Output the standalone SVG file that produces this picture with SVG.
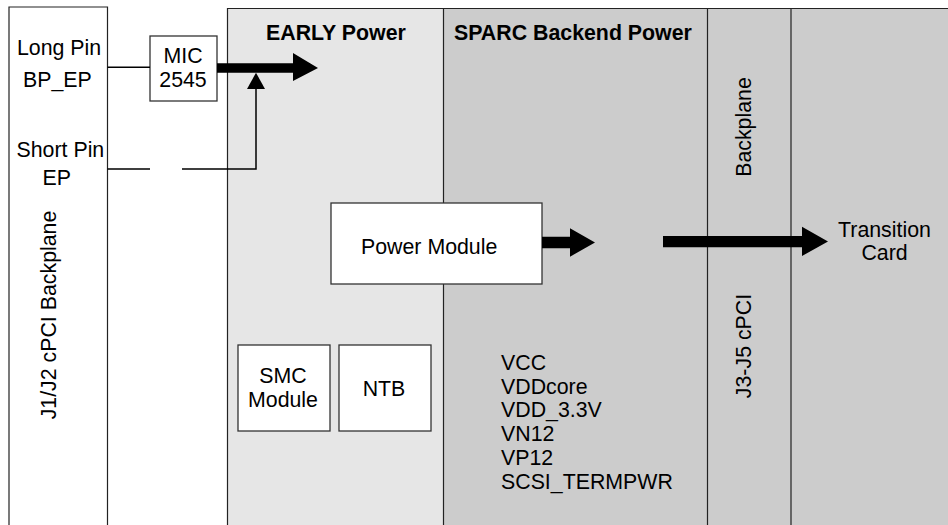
<svg xmlns="http://www.w3.org/2000/svg" width="948" height="525" viewBox="0 0 948 525">
<style>
.t{font-family:"Liberation Sans",Arial,sans-serif;font-size:21.33px;fill:#000}
.b{font-weight:bold}
.box{fill:#fff;stroke:#333;stroke-width:1.3}
.ln{stroke:#000;stroke-width:1.5;fill:none}
.sep{stroke:#222;stroke-width:1.2;fill:none}
.ar{fill:#000}
</style>
<rect width="948" height="525" fill="#fff"/>
<g id="regions">
<rect x="227.5" y="8.5" width="216" height="520" fill="#e6e6e6"/>
<rect x="443.5" y="8.5" width="510" height="520" fill="#cccccc"/>
<path class="sep" d="M227.5 525 V8.5 H948 M443.5 8.5 V525 M707.5 8.5 V525 M791 8.5 V525"/>
<text class="t b" x="266" y="40">EARLY Power</text>
<text class="t b" x="454" y="40">SPARC Backend Power</text>
</g>
<g id="backplane-left">
<path class="sep" d="M9 525 V7 H107.5 V525"/>
<text class="t" x="17" y="55">Long Pin</text>
<text class="t" x="23" y="87">BP_EP</text>
<text class="t" x="16.5" y="157">Short Pin</text>
<text class="t" x="42.5" y="185">EP</text>
<text class="t" transform="translate(55.5,315) rotate(-90)" text-anchor="middle">J1/J2 cPCI Backplane</text>
</g>
<g id="mic">
<rect class="box" x="150" y="36" width="67" height="65"/>
<text class="t" x="183" y="63" text-anchor="middle">MIC</text>
<text class="t" x="183" y="87" text-anchor="middle">2545</text>
</g>
<g id="power-module">
<rect class="box" x="331" y="203" width="211" height="81"/>
<text class="t" x="361" y="254">Power Module</text>
</g>
<g id="smc">
<rect class="box" x="238" y="345" width="92" height="86"/>
<text class="t" x="283" y="382.5" text-anchor="middle">SMC</text>
<text class="t" x="283" y="407" text-anchor="middle">Module</text>
</g>
<g id="ntb">
<rect class="box" x="339" y="345" width="92" height="86"/>
<text class="t" x="384" y="396" text-anchor="middle">NTB</text>
</g>
<g id="rails">
<text class="t" x="501" y="370">VCC</text>
<text class="t" x="501" y="393.5">VDDcore</text>
<text class="t" x="501" y="417.3">VDD_3.3V</text>
<text class="t" x="501" y="441">VN12</text>
<text class="t" x="501" y="465">VP12</text>
<text class="t" x="501" y="489">SCSI_TERMPWR</text>
</g>
<g id="backplane-right">
<text class="t" transform="translate(750.5,127) rotate(-90)" text-anchor="middle">Backplane</text>
<text class="t" transform="translate(750.5,346) rotate(-90)" text-anchor="middle">J3-J5 cPCI</text>
</g>
<g id="transition-card">
<text class="t" x="884.5" y="237" text-anchor="middle">Transition</text>
<text class="t" x="884.5" y="259.5" text-anchor="middle">Card</text>
</g>
<g id="connectors">
<line class="ln" x1="107.5" y1="67.3" x2="150" y2="67.3"/>
<polygon class="ar" points="217,63.3 293,63.3 293,53 318,68 293,81 293,72.7 217,72.7"/>
<path class="ln" d="M107.5 169 H150 M182 169 H256 V88"/>
<polygon class="ar" points="256,72.7 265,89 247,89"/>
<polygon class="ar" points="542,236.7 570,236.7 570,228.3 595,242.5 570,256.7 570,248.3 542,248.3"/>
<polygon class="ar" points="663,236 802,236 802,226.7 828,241.5 802,256 802,247.3 663,247.3"/>
</g>
</svg>
